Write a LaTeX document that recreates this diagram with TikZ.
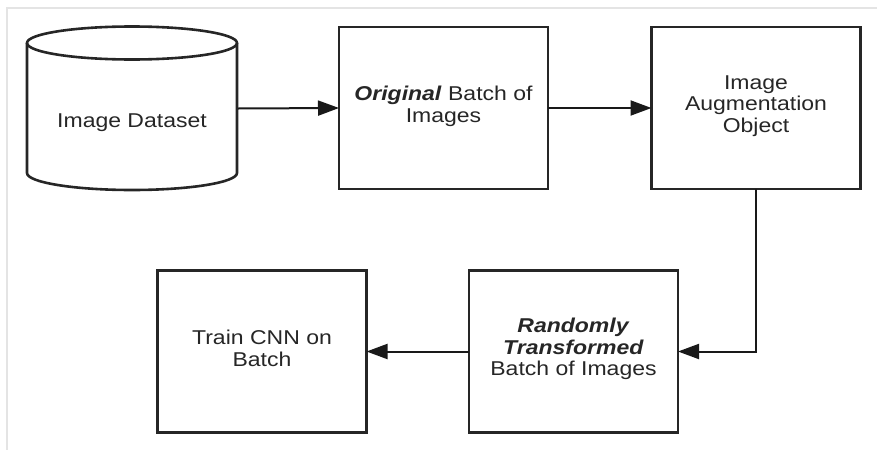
\documentclass[tikz,border=0pt]{standalone}
\usepackage{fontspec}
\setmainfont{Liberation Sans}[FakeStretch=1.15]
\usetikzlibrary{arrows.meta}
\definecolor{framegray}{HTML}{E4E4E4}
\definecolor{txt}{HTML}{262626}
\tikzset{
  box/.style={draw=black!85, line width=2.6pt, minimum width=209pt, minimum height=162pt, inner sep=0pt, outer sep=0pt},
  lbl/.style={align=center, text=txt, font=\fontsize{20}{21.8}\selectfont},
  conn/.style={line width=2pt, draw=black!90, -{Triangle[length=21pt,width=15pt]}},
}
\begin{document}
\begin{tikzpicture}[x=1pt,y=-1pt]
\useasboundingbox (0,0) rectangle (877,450);
% faint frame
\coordinate (f1) at (7,450);
\coordinate (f2) at (7,8);
\coordinate (f3) at (877,8);
\draw[framegray, line width=1.5pt] (f1) -- (f2) -- (f3);
% cylinder
\node[minimum width=210pt, minimum height=163pt, inner sep=0pt, outer sep=1pt] (ds) at (132,108.5) {};
\draw[black!85, line width=2.6pt]
  (27,43) -- (27,173) arc[start angle=180, end angle=360, x radius=105, y radius=-17]
  -- (237,43);
\draw[black!85, line width=2.6pt] (132,43) ellipse[x radius=105, y radius=16.5];
\node[lbl] (dst) at (132,123) {Image Dataset};
% boxes
\node[box] (orig) at (443.5,108) {};
\node[lbl] (origt) at (443.5,106) {\textbf{\textit{Original}} Batch of\\Images};
\node[box] (aug) at (756,108) {};
\node[lbl] (augt) at (756,106) {Image\\Augmentation\\Object};
\node[box] (rnd) at (573.5,351.5) {};
\node[lbl] (rndt) at (573.5,349) {\textbf{\textit{Randomly}}\\\textbf{\textit{Transformed}}\\Batch of Images};
\node[box] (train) at (262,351.5) {};
\node[lbl] (traint) at (262,348.5) {Train CNN on\\Batch};
% connectors
\draw[conn] (ds.east) -- (orig.west);
\draw[conn] (orig.east) -- (aug.west);
\draw[conn] (aug.south) |- (rnd.east);
\draw[conn] (rnd.west) -- (train.east);
\end{tikzpicture}
\end{document}
